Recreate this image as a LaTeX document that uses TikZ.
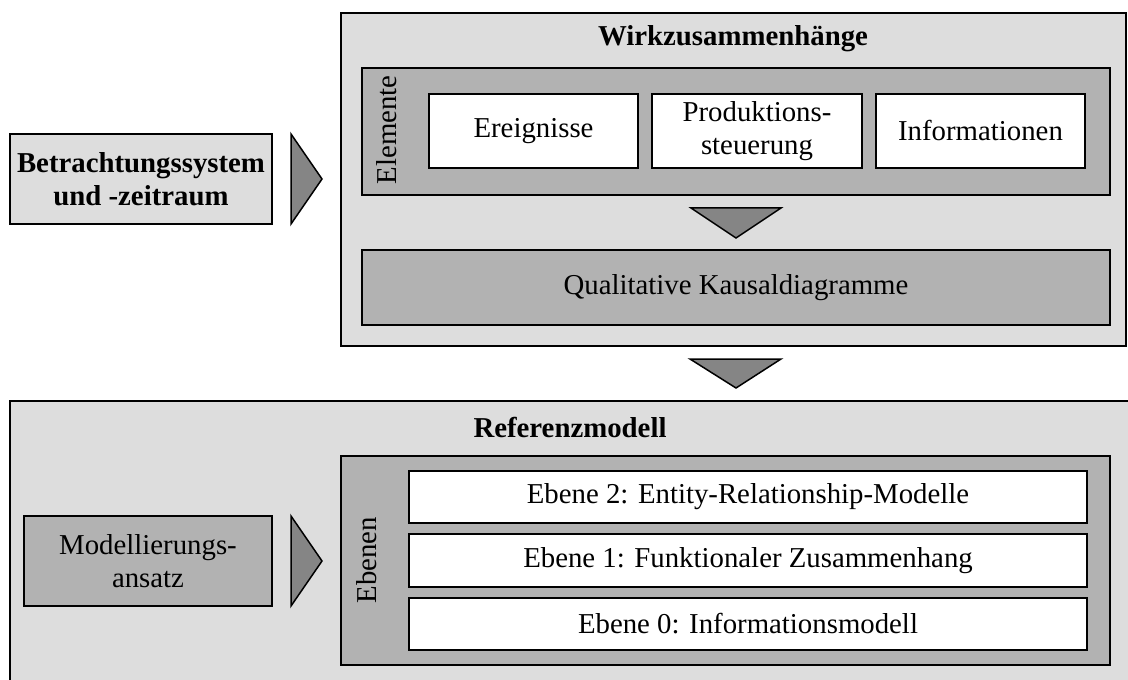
\documentclass[tikz,border=0pt]{standalone}
\usepackage{fontspec}
\setmainfont{Liberation Serif}
\definecolor{lightfill}{HTML}{DDDDDD}
\definecolor{midfill}{HTML}{B2B2B2}
\definecolor{darkfill}{HTML}{858585}
\begin{document}
\begin{tikzpicture}[x=0.5pt,y=-0.5pt,
  panel/.style={draw=black, line width=0.75pt, inner sep=0pt, align=center,
    font=\fontsize{14.4}{16.5}\selectfont},
  outerbox/.style={panel, fill=lightfill},
  groupbox/.style={panel, fill=midfill},
  itembox/.style={panel, fill=white, line width=1pt},
  heading/.style={font=\fontsize{14.4}{16.5}\selectfont\bfseries, inner sep=0pt},
  sidelabel/.style={font=\fontsize{14.4}{16.5}\selectfont, rotate=90, inner sep=0pt},
  pointer/.style={draw=black, fill=darkfill, line width=0.75pt, line join=miter}]
\useasboundingbox (0,0) rectangle (1128,679);
\clip (0,0) rectangle (1128,679);

% left input box
\node[outerbox, font=\fontsize{14.4}{16.5}\selectfont\bfseries,
  minimum width=131pt, minimum height=45pt] (betr) at (141,179)
  {Betrachtungssystem\\und -zeitraum};

% cause-effect panel
\node[outerbox, minimum width=392.5pt, minimum height=166.5pt] (wirk) at (733.5,179.5) {};
\node[heading] (wirktitle) at (733,39) {Wirkzusammenhänge};
\node[groupbox, minimum width=374pt, minimum height=63.5pt] (elem) at (736,131.5) {};
\node[sidelabel] (elemlabel) at (387,130) {Elemente};
\node[itembox, minimum width=104.5pt, minimum height=37pt] (ereig) at (533.5,131) {Ereignisse};
\node[itembox, minimum width=105pt, minimum height=37pt] (prod) at (757,131) {Produktions-\\steuerung};
\node[itembox, minimum width=104.5pt, minimum height=37pt] (info) at (980.5,131) {Informationen};
\node[groupbox, minimum width=374pt, minimum height=37.5pt] (qual) at (736,287.5) {Qualitative Kausaldiagramme};

% reference model panel
\node[outerbox, minimum width=560pt, minimum height=140.5pt] (ref) at (570,541.5) {};
\node[heading] (reftitle) at (570,427) {Referenzmodell};
\node[groupbox, minimum width=124pt, minimum height=45pt] (model) at (148,561) {Modellierungs-\\ansatz};
\node[groupbox, minimum width=384.5pt, minimum height=104.5pt] (ebenen) at (725.5,560.5) {};
\node[sidelabel] (ebenenlabel) at (367,560) {Ebenen};
\node[itembox, minimum width=339pt, minimum height=26pt] (e2) at (748,497) {Ebene 2: Entity-Relationship-Modelle};
\node[itembox, minimum width=339pt, minimum height=26.5pt] (e1) at (748,560.5) {Ebene 1: Funktionaler Zusammenhang};
\node[itembox, minimum width=339pt, minimum height=26pt] (e0) at (748,624) {Ebene 0: Informationsmodell};

% flow pointers
\filldraw[pointer] (291,134) -- (291,224) -- (322,179) -- cycle;
\filldraw[pointer] (691,208) -- (781,208) -- (736,238) -- cycle;
\filldraw[pointer] (690,359) -- (781,359) -- (736,388) -- cycle;
\filldraw[pointer] (291,516) -- (291,606) -- (322,561) -- cycle;
\end{tikzpicture}
\end{document}
